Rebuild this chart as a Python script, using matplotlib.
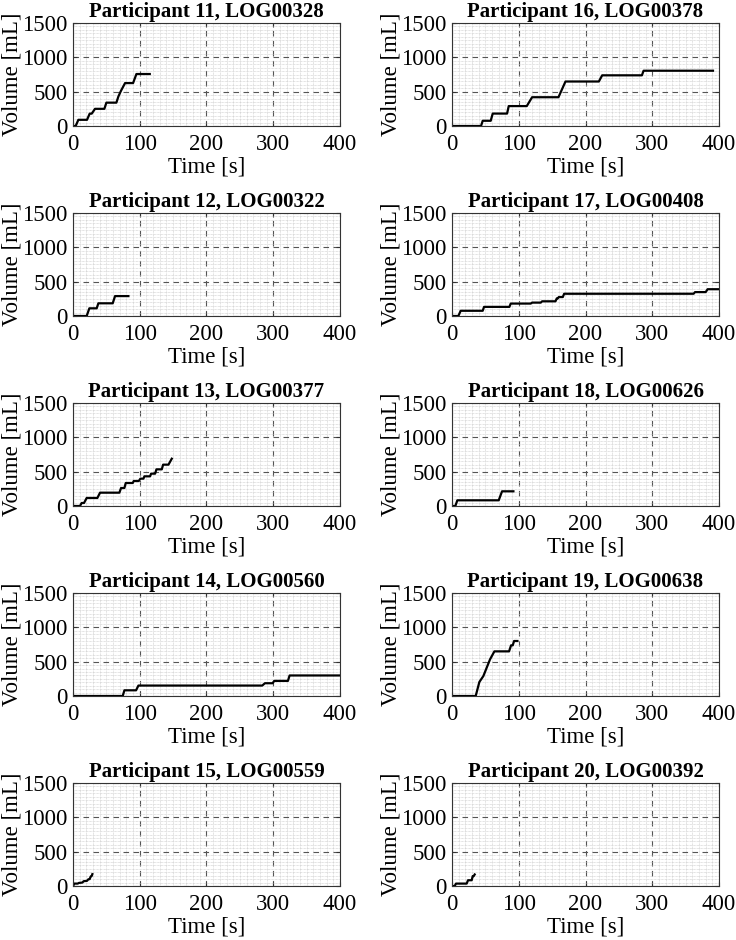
import matplotlib
matplotlib.use("Agg")
import matplotlib.pyplot as plt
from matplotlib.ticker import MultipleLocator

plt.rcParams["font.family"] = ["Liberation Serif", "DejaVu Serif"]

# time [s] and volume [mL]
t11 = [0, 4, 8, 21, 25, 28, 33, 47, 50, 65, 68, 72, 78, 90, 95, 115]
v11 = [0, 0, 90, 90, 180, 180, 250, 250, 340, 340, 430, 515, 625, 625, 757, 757]

t12 = [0, 20.5, 24.5, 35.5, 38, 59.5, 63, 83]
v12 = [0, 0, 112, 112, 185, 185, 290, 290]

t13 = [0, 10.5, 13, 16.5, 20.5, 36.5, 40.5, 69.5, 72, 77, 79, 89.5, 91, 98.5, 101,
       105.5, 107, 115.5, 117, 123, 125, 133, 135, 143, 148]
v13 = [0, 0, 44, 44, 117, 117, 194, 194, 262, 262, 335, 335, 364, 364, 398,
       398, 432, 432, 471, 471, 534, 534, 602, 602, 689]

t14 = [0, 74.5, 77, 94.5, 98, 283.5, 287.5, 299, 301.5, 322, 324.5, 400]
v14 = [0, 0, 83, 83, 152, 152, 186, 186, 220, 220, 299, 299]

t15 = [0, 2, 7, 9, 14, 16, 21, 23, 25, 26.5, 28, 29]
v15 = [0, 35, 35, 45, 50, 70, 75, 98, 100, 139, 145, 173]

t16 = [0, 43.5, 46, 58, 61, 82.5, 85, 112, 120, 159.5, 170, 220, 225, 284.5, 287, 391]
v16 = [0, 0, 76, 76, 181, 181, 290, 290, 419, 419, 648, 648, 738, 738, 805, 805]

t17 = [0, 9.5, 13, 46, 48, 86, 88, 118, 120, 133, 135, 155, 157, 158.5, 160, 166, 168,
       362, 364, 380, 383, 400]
v17 = [0, 0, 76, 76, 133, 133, 181, 181, 195, 195, 214, 214, 257, 257, 276, 276, 324,
       324, 348, 348, 390, 390]

t18 = [0, 5, 8, 70, 75, 92]
v18 = [0, 0, 83, 83, 214, 214]

t19 = [0, 35.5, 41, 47, 57, 63.5, 85.5, 88.5, 91, 93, 98]
v19 = [0, 0, 204, 291, 534, 650, 650, 738, 738, 801, 801]

t20 = [0, 4, 6, 22, 24, 29.5, 31, 32.5, 34]
v20 = [0, 0, 35, 35, 84, 84, 144, 144, 168]

panels = [
    ("Participant 11, LOG00328", t11, v11),
    ("Participant 12, LOG00322", t12, v12),
    ("Participant 13, LOG00377", t13, v13),
    ("Participant 14, LOG00560", t14, v14),
    ("Participant 15, LOG00559", t15, v15),
    ("Participant 16, LOG00378", t16, v16),
    ("Participant 17, LOG00408", t17, v17),
    ("Participant 18, LOG00626", t18, v18),
    ("Participant 19, LOG00638", t19, v19),
    ("Participant 20, LOG00392", t20, v20),
]

W, H = 736, 940
fig = plt.figure(figsize=(W / 100, H / 100), dpi=100)

for i, (title, t, v) in enumerate(panels):
    col, row = divmod(i, 5)
    left = 73 if col == 0 else 452
    bottom_px = 126 + 190 * row
    ax = fig.add_axes([left / W, 1 - bottom_px / H, 267 / W, 103 / H])
    ax.plot(t, v, color="black", lw=1.6)
    ax.set_xlim(0, 400)
    ax.set_ylim(0, 1500)
    ax.set_xticks([0, 100, 200, 300, 400])
    ax.set_yticks([0, 500, 1000, 1500])
    ax.xaxis.set_minor_locator(MultipleLocator(10))
    ax.yaxis.set_minor_locator(MultipleLocator(50))
    ax.grid(True, which="major", color="#555555", ls=(0, (5, 4)), lw=0.8)
    ax.grid(True, which="minor", color="#c8c8c8", ls=(0, (1, 1)), lw=0.5)
    ax.set_axisbelow(True)
    ax.tick_params(which="major", direction="in", length=3, labelsize=16.5,
                   top=True, right=True, color="#333333")
    ax.tick_params(axis="x", pad=6)
    ax.tick_params(axis="y", pad=4)
    ax.tick_params(which="minor", length=0)
    for s in ax.spines.values():
        s.set_color("#333333")
        s.set_linewidth(0.8)
    ax.set_title(title, fontsize=15, fontweight="bold", pad=4)
    ax.set_xlabel("Time [s]", fontsize=16.5, labelpad=1)
    ax.set_ylabel("Volume [mL]", fontsize=16.5, labelpad=0)

fig.savefig("out.png", dpi=100)
